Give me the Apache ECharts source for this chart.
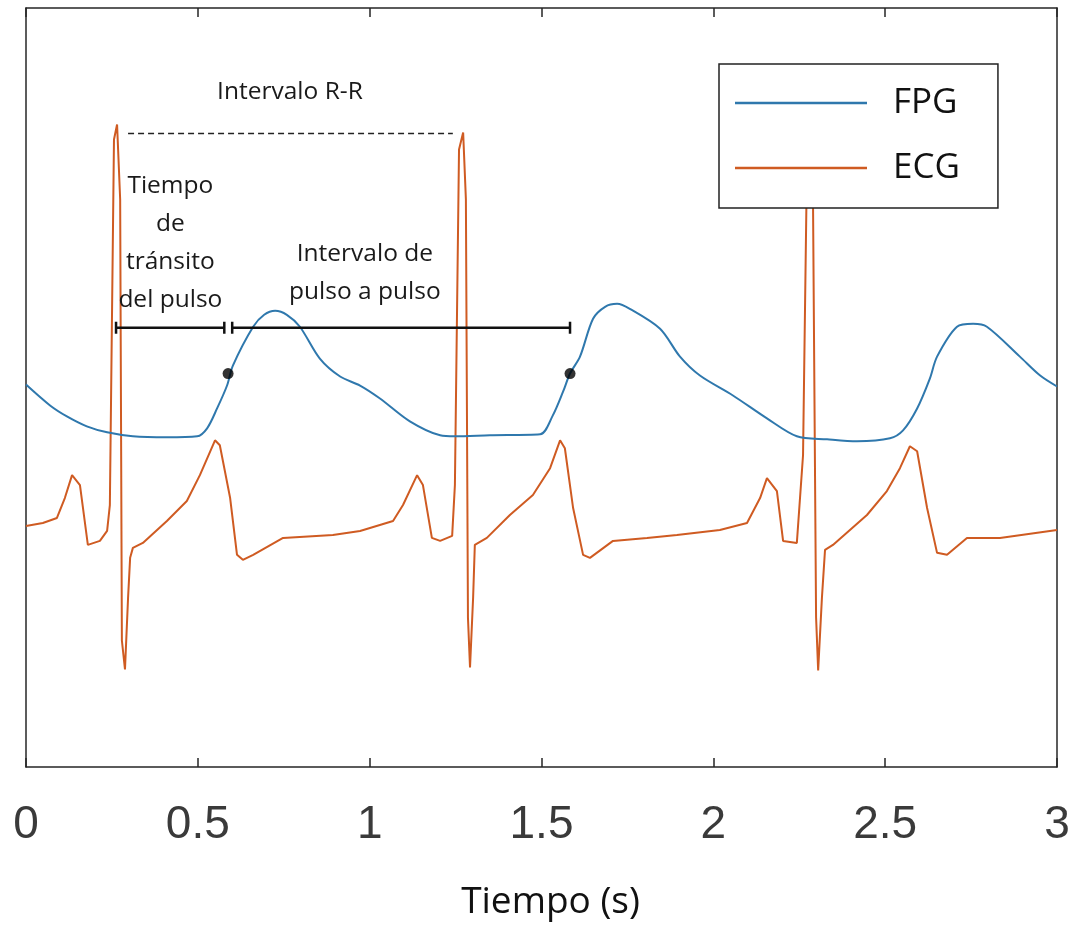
<!DOCTYPE html>
<html>
<head>
<meta charset="utf-8">
<script src="https://cdn.jsdelivr.net/npm/echarts@6/dist/echarts.min.js"></script>
<style>
html,body{margin:0;padding:0;background:#fff;}
#chart{width:1073px;height:926px;}
</style>
</head>
<body>
<div id="chart"></div>
<script>
// ---- data (time in s, amplitude in arbitrary units) ----
const xTicks = [0, 0.5, 1, 1.5, 2, 2.5, 3];

const fpgT = [0,0.070,0.119,0.177,0.236,0.311,0.410,0.498,0.527,0.556,0.585,0.602,0.661,0.693,0.725,0.759,0.797,0.855,0.914,0.972,1.030,1.117,1.205,1.248,1.350,1.496,1.533,1.563,1.583,1.612,1.650,1.685,1.720,1.757,1.845,1.903,1.961,2.057,2.156,2.243,2.331,2.418,2.514,2.552,2.593,2.630,2.651,2.709,2.756,2.796,2.892,2.951,3.000];
const fpgV = [3.84,3.63,3.52,3.42,3.36,3.32,3.31,3.32,3.40,3.60,3.83,4.03,4.42,4.54,4.58,4.54,4.42,4.10,3.92,3.83,3.70,3.47,3.33,3.32,3.33,3.34,3.53,3.77,3.95,4.12,4.50,4.62,4.65,4.60,4.40,4.12,3.93,3.73,3.50,3.32,3.29,3.27,3.30,3.38,3.60,3.90,4.12,4.42,4.45,4.42,4.12,3.93,3.82];

const ecgT = [0,0.049,0.090,0.113,0.134,0.157,0.180,0.215,0.236,0.244,0.256,0.265,0.274,0.279,0.288,0.297,0.303,0.311,0.340,0.410,0.468,0.506,0.550,0.564,0.594,0.614,0.631,0.661,0.748,0.893,0.972,1.068,1.097,1.138,1.155,1.181,1.205,1.240,1.248,1.260,1.272,1.280,1.286,1.292,1.301,1.306,1.341,1.408,1.475,1.525,1.554,1.568,1.592,1.621,1.641,1.708,1.807,1.894,2.019,2.098,2.136,2.156,2.185,2.203,2.243,2.261,2.273,2.281,2.290,2.299,2.305,2.316,2.325,2.348,2.447,2.505,2.543,2.572,2.593,2.622,2.651,2.680,2.738,2.834,3.000];
const ecgV = [2.42,2.45,2.50,2.70,2.93,2.83,2.23,2.27,2.37,2.63,6.30,6.45,5.70,1.27,0.98,1.70,2.10,2.20,2.25,2.47,2.67,2.93,3.28,3.23,2.70,2.13,2.08,2.13,2.30,2.33,2.37,2.47,2.63,2.93,2.83,2.30,2.27,2.32,2.83,6.20,6.37,5.70,1.50,1.00,1.70,2.23,2.30,2.53,2.73,3.00,3.28,3.20,2.60,2.13,2.10,2.27,2.30,2.33,2.38,2.45,2.70,2.90,2.77,2.27,2.25,3.13,6.20,6.40,5.70,1.50,0.97,1.70,2.18,2.23,2.53,2.77,3.00,3.22,3.17,2.60,2.15,2.13,2.30,2.30,2.38];

// annotation marks (data coordinates)
const pulseDotT = [0.588, 1.583];
const pulseDotV = [3.95, 3.95];
const bracketStart = [0.262, 0.600];
const bracketEnd = [0.577, 1.583];
const bracketLevel = [4.41, 4.41];
const rrStart = 0.297, rrEnd = 1.242, rrLevel = 6.36;
const annotTexts = ['Intervalo R-R', 'Tiempo\nde\ntránsito\ndel pulso', 'Intervalo de\npulso a pulso'];
const annotT = [0.768, 0.42, 0.986];
const annotV = [6.78, 5.265, 4.96];

const zip = (a, b) => a.map((v, i) => [v, b[i]]);

const chart = echarts.init(document.getElementById('chart'), null, {renderer: 'canvas'});
const axisColor = '#262626';
const option = {
  animation: false,
  backgroundColor: '#fff',
  grid: {left: 26, right: 16, top: 8, bottom: 156, containLabel: false},
  legend: {
    show: true,
    orient: 'vertical',
    left: 719, top: 64,
    padding: [19, 38, 20, 16],
    itemGap: 25,
    itemWidth: 132, itemHeight: 2.5,
    icon: 'rect',
    backgroundColor: '#fff',
    borderColor: '#222', borderWidth: 1.5,
    data: ['FPG', 'ECG'],
    textStyle: {fontFamily: 'Open Sans', fontSize: 35, color: '#111', lineHeight: 40, padding: [0, 0, 0, 21]}
  },
  xAxis: [{
    type: 'value', min: 0, max: 3, interval: 0.5, position: 'bottom',
    axisLine: {show: true, onZero: false, lineStyle: {color: axisColor, width: 1.5}},
    axisTick: {show: true, inside: true, length: 9, lineStyle: {color: axisColor, width: 1.5}},
    axisLabel: {show: true, margin: 35, fontFamily: 'Liberation Sans', fontSize: 46, color: '#3a3a3a',
      formatter: v => xTicks.includes(v) ? String(v) : ''},
    splitLine: {show: false},
    name: 'Tiempo (s)', nameLocation: 'middle', nameGap: 117,
    nameTextStyle: {fontFamily: 'Open Sans', fontSize: 37, color: '#111', padding: [0, 0, 0, 18]}
  }, {
    type: 'value', min: 0, max: 3, interval: 0.5, position: 'top',
    axisLine: {show: true, onZero: false, lineStyle: {color: axisColor, width: 1.5}},
    axisTick: {show: true, inside: true, length: 9, lineStyle: {color: axisColor, width: 1.5}},
    axisLabel: {show: false}, splitLine: {show: false}
  }],
  yAxis: [{
    type: 'value', min: 0, max: 7.62, position: 'left',
    axisLine: {show: true, onZero: false, lineStyle: {color: axisColor, width: 1.5}},
    axisTick: {show: false}, axisLabel: {show: false}, splitLine: {show: false}
  }, {
    type: 'value', min: 0, max: 7.62, position: 'right',
    axisLine: {show: true, onZero: false, lineStyle: {color: axisColor, width: 1.5}},
    axisTick: {show: false}, axisLabel: {show: false}, splitLine: {show: false}
  }],
  series: [
    {
      name: 'FPG', type: 'line', data: zip(fpgT, fpgV), showSymbol: false, symbol: 'none',
      smooth: 0.3,
      lineStyle: {color: '#2f78ad', width: 2}, itemStyle: {color: '#2f78ad'}, z: 3
    },
    {
      name: 'ECG', type: 'line', data: zip(ecgT, ecgV), showSymbol: false, symbol: 'none',
      lineStyle: {color: '#cf5b22', width: 2}, itemStyle: {color: '#cf5b22'}, z: 2
    },
    {
      type: 'custom', name: 'brackets', z: 5, silent: true,
      data: bracketStart.map((s, i) => [s, bracketEnd[i], bracketLevel[i]]),
      encode: {x: [0, 1], y: 2},
      renderItem: (params, api) => {
        const a = api.coord([api.value(0), api.value(2)]);
        const b = api.coord([api.value(1), api.value(2)]);
        const st = {stroke: '#111', lineWidth: 2.5};
        return {type: 'group', children: [
          {type: 'line', shape: {x1: a[0], y1: a[1], x2: b[0], y2: b[1]}, style: st},
          {type: 'line', shape: {x1: a[0], y1: a[1] - 6, x2: a[0], y2: a[1] + 6}, style: st},
          {type: 'line', shape: {x1: b[0], y1: b[1] - 6, x2: b[0], y2: b[1] + 6}, style: st}
        ]};
      }
    },
    {
      type: 'custom', name: 'rr', z: 5, silent: true,
      data: [[rrStart, rrEnd, rrLevel]],
      encode: {x: [0, 1], y: 2},
      renderItem: (params, api) => {
        const a = api.coord([api.value(0), api.value(2)]);
        const b = api.coord([api.value(1), api.value(2)]);
        return {type: 'line', shape: {x1: a[0], y1: a[1], x2: b[0], y2: b[1]},
          style: {stroke: '#222', lineWidth: 1.3, lineDash: [6, 4]}};
      }
    },
    {
      type: 'custom', name: 'texts', z: 6, silent: true,
      data: zip(annotT, annotV),
      encode: {x: 0, y: 1},
      renderItem: (params, api) => {
        const p = api.coord([api.value(0), api.value(1)]);
        return {type: 'text', x: p[0], y: p[1],
          style: {text: annotTexts[params.dataIndex], fontFamily: 'Open Sans', fontSize: 24.5,
            lineHeight: 38, fill: '#1a1a1a', align: 'center', verticalAlign: 'middle'}};
      }
    },
    {
      type: 'scatter', name: 'dots', data: zip(pulseDotT, pulseDotV), symbolSize: 11,
      itemStyle: {color: '#000'}, z: 7, silent: true
    }
  ]
};
chart.setOption(option);
</script>
</body>
</html>
